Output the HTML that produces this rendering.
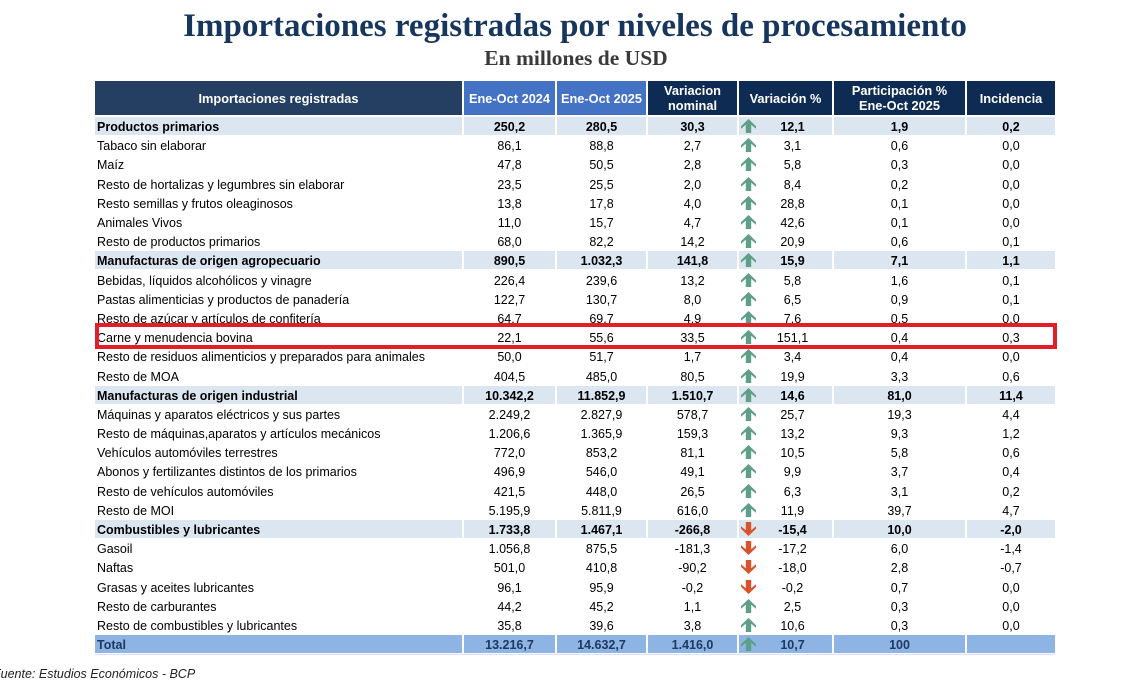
<!DOCTYPE html>
<html>
<head>
<meta charset="utf-8">
<style>
html,body{margin:0;padding:0;background:#fff;}
body{width:1123px;height:674px;position:relative;overflow:hidden;font-family:"Liberation Sans",Arial,sans-serif;font-size:12.5px;color:#000;}
.title{position:absolute;left:0;width:1150px;top:10px;text-align:center;font-family:"Liberation Serif",serif;font-weight:bold;font-size:33px;line-height:33px;color:#17365D;white-space:nowrap;}
.sub{position:absolute;left:0;width:1152px;top:47px;text-align:center;font-family:"Liberation Serif",serif;font-weight:bold;font-size:21.5px;line-height:22px;color:#3a3a3a;white-space:nowrap;}
.h{position:absolute;top:81px;height:34px;display:flex;align-items:center;justify-content:center;text-align:center;color:#fff;font-weight:bold;font-size:12.8px;line-height:15px;background:#0E2C53;}
.r{position:absolute;left:0;width:1123px;height:18px;}
.c{position:absolute;top:0;height:18px;line-height:20px;text-align:center;white-space:nowrap;box-sizing:border-box;}
.c0{left:95px;width:367px;text-align:left;padding-left:2px;}
.c1{left:464px;width:91px;}
.c2{left:557px;width:89px;}
.c3{left:648px;width:89px;}
.c4{left:739px;width:93px;padding-left:14px;}
.c5{left:834px;width:131px;}
.c6{left:967px;width:88px;}
.s .c{background:#DCE6F1;font-weight:bold;}
.t .c{background:#8DB4E2;color:#1F3864;font-weight:bold;}
.c4 svg{position:absolute;left:2px;top:2px;}
.box{position:absolute;left:95px;top:323px;width:962px;height:26px;box-sizing:border-box;border:4px solid #E31E26;}
.line{position:absolute;left:95px;top:654px;width:960px;height:1px;background:#D9E2EE;}
.foot{position:absolute;left:-7px;top:667px;font-style:italic;font-size:12.5px;line-height:14px;color:#222;white-space:nowrap;}
</style>
</head>
<body>
<div class="title">Importaciones registradas por niveles de procesamiento</div>
<div class="sub">En millones de USD</div>

<div class="h" style="left:95px;width:367px;background:#243F62;">Importaciones registradas</div>
<div class="h" style="left:464px;width:91px;background:#4472C4;">Ene-Oct 2024</div>
<div class="h" style="left:557px;width:89px;background:#4472C4;">Ene-Oct 2025</div>
<div class="h" style="left:648px;width:89px;">Variacion<br>nominal</div>
<div class="h" style="left:739px;width:93px;">Variación %</div>
<div class="h" style="left:834px;width:131px;">Participación %<br>Ene-Oct 2025</div>
<div class="h" style="left:967px;width:88px;">Incidencia</div>

<svg width="0" height="0" style="position:absolute">
<defs>
<path id="up" d="M7.5 0 L15 7.2 L15 9.8 L10.2 5.8 L10.2 14 L4.8 14 L4.8 5.8 L0 9.8 L0 7.2 Z" fill="#5F9E87"/>
<path id="dn" d="M7.5 14 L15 6.8 L15 4.2 L10.2 8.2 L10.2 0 L4.8 0 L4.8 8.2 L0 4.2 L0 6.8 Z" fill="#D8522E"/>
</defs>
</svg>

<div class="r s" style="top:117px"><div class="c c0">Productos primarios</div><div class="c c1">250,2</div><div class="c c2">280,5</div><div class="c c3">30,3</div><div class="c c4"><svg width="15" height="14"><use href="#up"/></svg>12,1</div><div class="c c5">1,9</div><div class="c c6">0,2</div></div>
<div class="r" style="top:136px"><div class="c c0">Tabaco sin elaborar</div><div class="c c1">86,1</div><div class="c c2">88,8</div><div class="c c3">2,7</div><div class="c c4"><svg width="15" height="14"><use href="#up"/></svg>3,1</div><div class="c c5">0,6</div><div class="c c6">0,0</div></div>
<div class="r" style="top:155.4px"><div class="c c0">Maíz</div><div class="c c1">47,8</div><div class="c c2">50,5</div><div class="c c3">2,8</div><div class="c c4"><svg width="15" height="14"><use href="#up"/></svg>5,8</div><div class="c c5">0,3</div><div class="c c6">0,0</div></div>
<div class="r" style="top:174.6px"><div class="c c0">Resto de hortalizas y legumbres sin elaborar</div><div class="c c1">23,5</div><div class="c c2">25,5</div><div class="c c3">2,0</div><div class="c c4"><svg width="15" height="14"><use href="#up"/></svg>8,4</div><div class="c c5">0,2</div><div class="c c6">0,0</div></div>
<div class="r" style="top:193.8px"><div class="c c0">Resto semillas y frutos oleaginosos</div><div class="c c1">13,8</div><div class="c c2">17,8</div><div class="c c3">4,0</div><div class="c c4"><svg width="15" height="14"><use href="#up"/></svg>28,8</div><div class="c c5">0,1</div><div class="c c6">0,0</div></div>
<div class="r" style="top:213px"><div class="c c0">Animales Vivos</div><div class="c c1">11,0</div><div class="c c2">15,7</div><div class="c c3">4,7</div><div class="c c4"><svg width="15" height="14"><use href="#up"/></svg>42,6</div><div class="c c5">0,1</div><div class="c c6">0,0</div></div>
<div class="r" style="top:232.1px"><div class="c c0">Resto de productos primarios</div><div class="c c1">68,0</div><div class="c c2">82,2</div><div class="c c3">14,2</div><div class="c c4"><svg width="15" height="14"><use href="#up"/></svg>20,9</div><div class="c c5">0,6</div><div class="c c6">0,1</div></div>
<div class="r s" style="top:251.3px"><div class="c c0">Manufacturas de origen agropecuario</div><div class="c c1">890,5</div><div class="c c2">1.032,3</div><div class="c c3">141,8</div><div class="c c4"><svg width="15" height="14"><use href="#up"/></svg>15,9</div><div class="c c5">7,1</div><div class="c c6">1,1</div></div>
<div class="r" style="top:270.5px"><div class="c c0">Bebidas, líquidos alcohólicos y vinagre</div><div class="c c1">226,4</div><div class="c c2">239,6</div><div class="c c3">13,2</div><div class="c c4"><svg width="15" height="14"><use href="#up"/></svg>5,8</div><div class="c c5">1,6</div><div class="c c6">0,1</div></div>
<div class="r" style="top:289.7px"><div class="c c0">Pastas alimenticias y productos de panadería</div><div class="c c1">122,7</div><div class="c c2">130,7</div><div class="c c3">8,0</div><div class="c c4"><svg width="15" height="14"><use href="#up"/></svg>6,5</div><div class="c c5">0,9</div><div class="c c6">0,1</div></div>
<div class="r" style="top:308.9px"><div class="c c0">Resto de azúcar y artículos de confitería</div><div class="c c1">64,7</div><div class="c c2">69,7</div><div class="c c3">4,9</div><div class="c c4"><svg width="15" height="14"><use href="#up"/></svg>7,6</div><div class="c c5">0,5</div><div class="c c6">0,0</div></div>
<div class="r" style="top:328.1px"><div class="c c0">Carne y menudencia bovina</div><div class="c c1">22,1</div><div class="c c2">55,6</div><div class="c c3">33,5</div><div class="c c4"><svg width="15" height="14"><use href="#up"/></svg>151,1</div><div class="c c5">0,4</div><div class="c c6">0,3</div></div>
<div class="r" style="top:347.3px"><div class="c c0">Resto de residuos alimenticios y preparados para animales</div><div class="c c1">50,0</div><div class="c c2">51,7</div><div class="c c3">1,7</div><div class="c c4"><svg width="15" height="14"><use href="#up"/></svg>3,4</div><div class="c c5">0,4</div><div class="c c6">0,0</div></div>
<div class="r" style="top:366.5px"><div class="c c0">Resto de MOA</div><div class="c c1">404,5</div><div class="c c2">485,0</div><div class="c c3">80,5</div><div class="c c4"><svg width="15" height="14"><use href="#up"/></svg>19,9</div><div class="c c5">3,3</div><div class="c c6">0,6</div></div>
<div class="r s" style="top:385.7px"><div class="c c0">Manufacturas de origen industrial</div><div class="c c1">10.342,2</div><div class="c c2">11.852,9</div><div class="c c3">1.510,7</div><div class="c c4"><svg width="15" height="14"><use href="#up"/></svg>14,6</div><div class="c c5">81,0</div><div class="c c6">11,4</div></div>
<div class="r" style="top:404.9px"><div class="c c0">Máquinas y aparatos eléctricos y sus partes</div><div class="c c1">2.249,2</div><div class="c c2">2.827,9</div><div class="c c3">578,7</div><div class="c c4"><svg width="15" height="14"><use href="#up"/></svg>25,7</div><div class="c c5">19,3</div><div class="c c6">4,4</div></div>
<div class="r" style="top:424px"><div class="c c0">Resto de máquinas,aparatos y artículos mecánicos</div><div class="c c1">1.206,6</div><div class="c c2">1.365,9</div><div class="c c3">159,3</div><div class="c c4"><svg width="15" height="14"><use href="#up"/></svg>13,2</div><div class="c c5">9,3</div><div class="c c6">1,2</div></div>
<div class="r" style="top:443.2px"><div class="c c0">Vehículos automóviles terrestres</div><div class="c c1">772,0</div><div class="c c2">853,2</div><div class="c c3">81,1</div><div class="c c4"><svg width="15" height="14"><use href="#up"/></svg>10,5</div><div class="c c5">5,8</div><div class="c c6">0,6</div></div>
<div class="r" style="top:462.4px"><div class="c c0">Abonos y fertilizantes distintos de los primarios</div><div class="c c1">496,9</div><div class="c c2">546,0</div><div class="c c3">49,1</div><div class="c c4"><svg width="15" height="14"><use href="#up"/></svg>9,9</div><div class="c c5">3,7</div><div class="c c6">0,4</div></div>
<div class="r" style="top:481.6px"><div class="c c0">Resto de vehículos automóviles</div><div class="c c1">421,5</div><div class="c c2">448,0</div><div class="c c3">26,5</div><div class="c c4"><svg width="15" height="14"><use href="#up"/></svg>6,3</div><div class="c c5">3,1</div><div class="c c6">0,2</div></div>
<div class="r" style="top:500.8px"><div class="c c0">Resto de MOI</div><div class="c c1">5.195,9</div><div class="c c2">5.811,9</div><div class="c c3">616,0</div><div class="c c4"><svg width="15" height="14"><use href="#up"/></svg>11,9</div><div class="c c5">39,7</div><div class="c c6">4,7</div></div>
<div class="r s" style="top:520px"><div class="c c0">Combustibles y lubricantes</div><div class="c c1">1.733,8</div><div class="c c2">1.467,1</div><div class="c c3">-266,8</div><div class="c c4"><svg width="15" height="14"><use href="#dn"/></svg>-15,4</div><div class="c c5">10,0</div><div class="c c6">-2,0</div></div>
<div class="r" style="top:539.2px"><div class="c c0">Gasoil</div><div class="c c1">1.056,8</div><div class="c c2">875,5</div><div class="c c3">-181,3</div><div class="c c4"><svg width="15" height="14"><use href="#dn"/></svg>-17,2</div><div class="c c5">6,0</div><div class="c c6">-1,4</div></div>
<div class="r" style="top:558.4px"><div class="c c0">Naftas</div><div class="c c1">501,0</div><div class="c c2">410,8</div><div class="c c3">-90,2</div><div class="c c4"><svg width="15" height="14"><use href="#dn"/></svg>-18,0</div><div class="c c5">2,8</div><div class="c c6">-0,7</div></div>
<div class="r" style="top:577.6px"><div class="c c0">Grasas y aceites lubricantes</div><div class="c c1">96,1</div><div class="c c2">95,9</div><div class="c c3">-0,2</div><div class="c c4"><svg width="15" height="14"><use href="#dn"/></svg>-0,2</div><div class="c c5">0,7</div><div class="c c6">0,0</div></div>
<div class="r" style="top:596.8px"><div class="c c0">Resto de carburantes</div><div class="c c1">44,2</div><div class="c c2">45,2</div><div class="c c3">1,1</div><div class="c c4"><svg width="15" height="14"><use href="#up"/></svg>2,5</div><div class="c c5">0,3</div><div class="c c6">0,0</div></div>
<div class="r" style="top:615.9px"><div class="c c0">Resto de combustibles y lubricantes</div><div class="c c1">35,8</div><div class="c c2">39,6</div><div class="c c3">3,8</div><div class="c c4"><svg width="15" height="14"><use href="#up"/></svg>10,6</div><div class="c c5">0,3</div><div class="c c6">0,0</div></div>
<div class="r t" style="top:635.1px"><div class="c c0">Total</div><div class="c c1">13.216,7</div><div class="c c2">14.632,7</div><div class="c c3">1.416,0</div><div class="c c4"><svg width="15" height="14"><use href="#up"/></svg>10,7</div><div class="c c5">100</div><div class="c c6"></div></div>

<div class="line"></div>
<div class="box"></div>
<div class="foot">Fuente: Estudios Económicos - BCP</div>
</body>
</html>
